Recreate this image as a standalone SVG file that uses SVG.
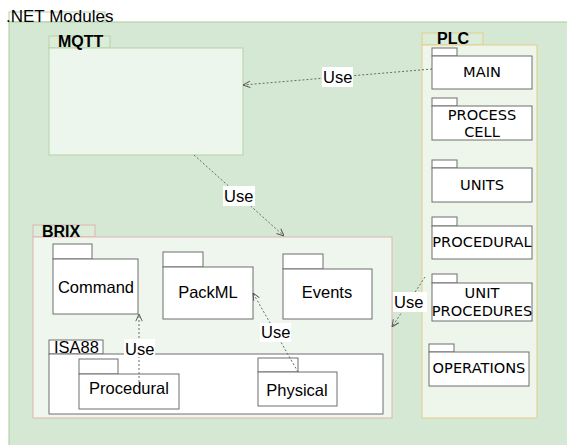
<svg xmlns="http://www.w3.org/2000/svg" width="567" height="445" viewBox="0 0 567 445">
<defs>
<style>
.lbl{font-family:"Liberation Sans",Arial,sans-serif;font-size:16.5px;fill:#000}
.bold{font-family:"Liberation Sans",Arial,sans-serif;font-size:16px;font-weight:bold;fill:#000}
.plc{font-family:"DejaVu Sans",Verdana,sans-serif;font-size:14.6px;fill:#000;text-anchor:middle}
.pkg{fill:#fff;stroke:#6e6e6e;stroke-width:1}
.edge{fill:none;stroke:#6a6a6a;stroke-width:1;stroke-dasharray:2 2}
.bg{fill:#fff}
</style>
<marker id="arr" viewBox="0 0 10 10" refX="10" refY="5" markerWidth="8" markerHeight="8" orient="auto" markerUnits="userSpaceOnUse">
<path d="M1,1 L10,5 L1,9" fill="none" stroke="#555" stroke-width="1.2"/>
</marker>
</defs>
<rect width="567" height="445" fill="#fff"/>
<g id="net-modules">
<rect x="9" y="12" width="96" height="10" fill="#fff" stroke="#b5d3a9"/>
<rect x="9" y="22" width="560" height="430" fill="#d5e8d4" stroke="#a9cb9b"/>
<text class="lbl" x="6" y="22" style="font-size:17px">.NET Modules</text>
</g>
<g id="mqtt">
<rect x="49" y="36" width="61" height="12" fill="#dbecd8" stroke="#b5d3a9"/>
<rect x="49" y="48" width="194" height="107" fill="#edf6ec" stroke="#b5d3a9"/>
<text class="bold" x="58" y="47">MQTT</text>
</g>
<g id="plc">
<rect x="422" y="33" width="61" height="12" fill="#dbecd8" stroke="#e3cd8c"/>
<rect x="422" y="45" width="115" height="373" fill="#eef6ec" stroke="#e3cd8c"/>
<text class="bold" x="437" y="44">PLC</text>
</g>
<g id="plc-main">
<rect class="pkg" x="432" y="48" width="25" height="8"/>
<rect class="pkg" x="432" y="56" width="100" height="33"/>
<text class="plc" x="482" y="77">MAIN</text>
</g>
<g id="plc-process-cell">
<rect class="pkg" x="432" y="98" width="25" height="8"/>
<rect class="pkg" x="432" y="106" width="100" height="34"/>
<text class="plc" x="482" y="120">PROCESS</text>
<text class="plc" x="482" y="137">CELL</text>
</g>
<g id="plc-units">
<rect class="pkg" x="432" y="160" width="25" height="8"/>
<rect class="pkg" x="432" y="168" width="100" height="34"/>
<text class="plc" x="482" y="190">UNITS</text>
</g>
<g id="plc-procedural">
<rect class="pkg" x="432" y="217" width="25" height="9"/>
<rect class="pkg" x="432" y="226" width="100" height="33"/>
<text class="plc" x="482" y="247">PROCEDURAL</text>
</g>
<g id="plc-unit-procedures">
<rect class="pkg" x="432" y="274" width="25" height="9"/>
<rect class="pkg" x="432" y="283" width="100" height="38"/>
<text class="plc" x="482" y="298">UNIT</text>
<text class="plc" x="482" y="316">PROCEDURES</text>
</g>
<g id="plc-operations">
<rect class="pkg" x="429" y="344" width="25" height="8"/>
<rect class="pkg" x="429" y="352" width="100" height="34"/>
<text class="plc" x="479" y="373">OPERATIONS</text>
</g>
<g id="brix">
<rect x="33" y="225" width="62" height="12" fill="#dbecd8" stroke="#e0b4b0"/>
<rect x="33" y="237" width="359" height="181" fill="#eef6ee" stroke="#e0b4b0"/>
<text class="bold" x="42" y="237">BRIX</text>
</g>
<g id="command">
<rect class="pkg" x="53" y="244" width="39" height="15"/>
<rect class="pkg" x="53" y="259" width="85" height="55"/>
<text class="lbl" x="96" y="293" text-anchor="middle">Command</text>
</g>
<g id="packml">
<rect class="pkg" x="163" y="252" width="40" height="15"/>
<rect class="pkg" x="163" y="267" width="90" height="52"/>
<text class="lbl" x="208" y="298" text-anchor="middle">PackML</text>
</g>
<g id="events">
<rect class="pkg" x="283" y="254" width="40" height="15"/>
<rect class="pkg" x="283" y="269" width="89" height="50"/>
<text class="lbl" x="327" y="298" text-anchor="middle">Events</text>
</g>
<g id="isa88">
<rect class="pkg" x="49" y="340" width="54" height="14"/>
<rect class="pkg" x="49" y="354" width="334" height="60"/>
<text class="lbl" x="54" y="353">ISA88</text>
</g>
<g id="procedural">
<rect class="pkg" x="79" y="359" width="39" height="15"/>
<rect class="pkg" x="79" y="374" width="100" height="35"/>
<text class="lbl" x="129" y="394" text-anchor="middle">Procedural</text>
</g>
<g id="physical">
<rect class="pkg" x="258" y="358" width="40" height="14"/>
<rect class="pkg" x="258" y="372" width="79" height="34"/>
<text class="lbl" x="297" y="396" text-anchor="middle">Physical</text>
</g>
<g id="connectors">
<path class="edge" d="M432,69 L243,85" marker-end="url(#arr)"/>
<rect class="bg" x="322" y="67" width="31" height="20"/>
<text class="lbl" x="323" y="83">Use</text>
<path class="edge" d="M194,155 L284,236" marker-end="url(#arr)"/>
<rect class="bg" x="223" y="186" width="32" height="20"/>
<text class="lbl" x="224" y="202">Use</text>
<path class="edge" d="M425,277 L392,327" marker-end="url(#arr)"/>
<rect class="bg" x="393" y="292" width="34" height="20"/>
<text class="lbl" x="394" y="308">Use</text>
<path class="edge" d="M139,382 L139,314" marker-end="url(#arr)"/>
<rect class="bg" x="124" y="339" width="31" height="18"/>
<text class="lbl" x="125" y="355">Use</text>
<path class="edge" d="M298,372 L253,293" marker-end="url(#arr)"/>
<rect class="bg" x="260" y="323" width="31" height="19"/>
<text class="lbl" x="261" y="338">Use</text>
</g>
</svg>
